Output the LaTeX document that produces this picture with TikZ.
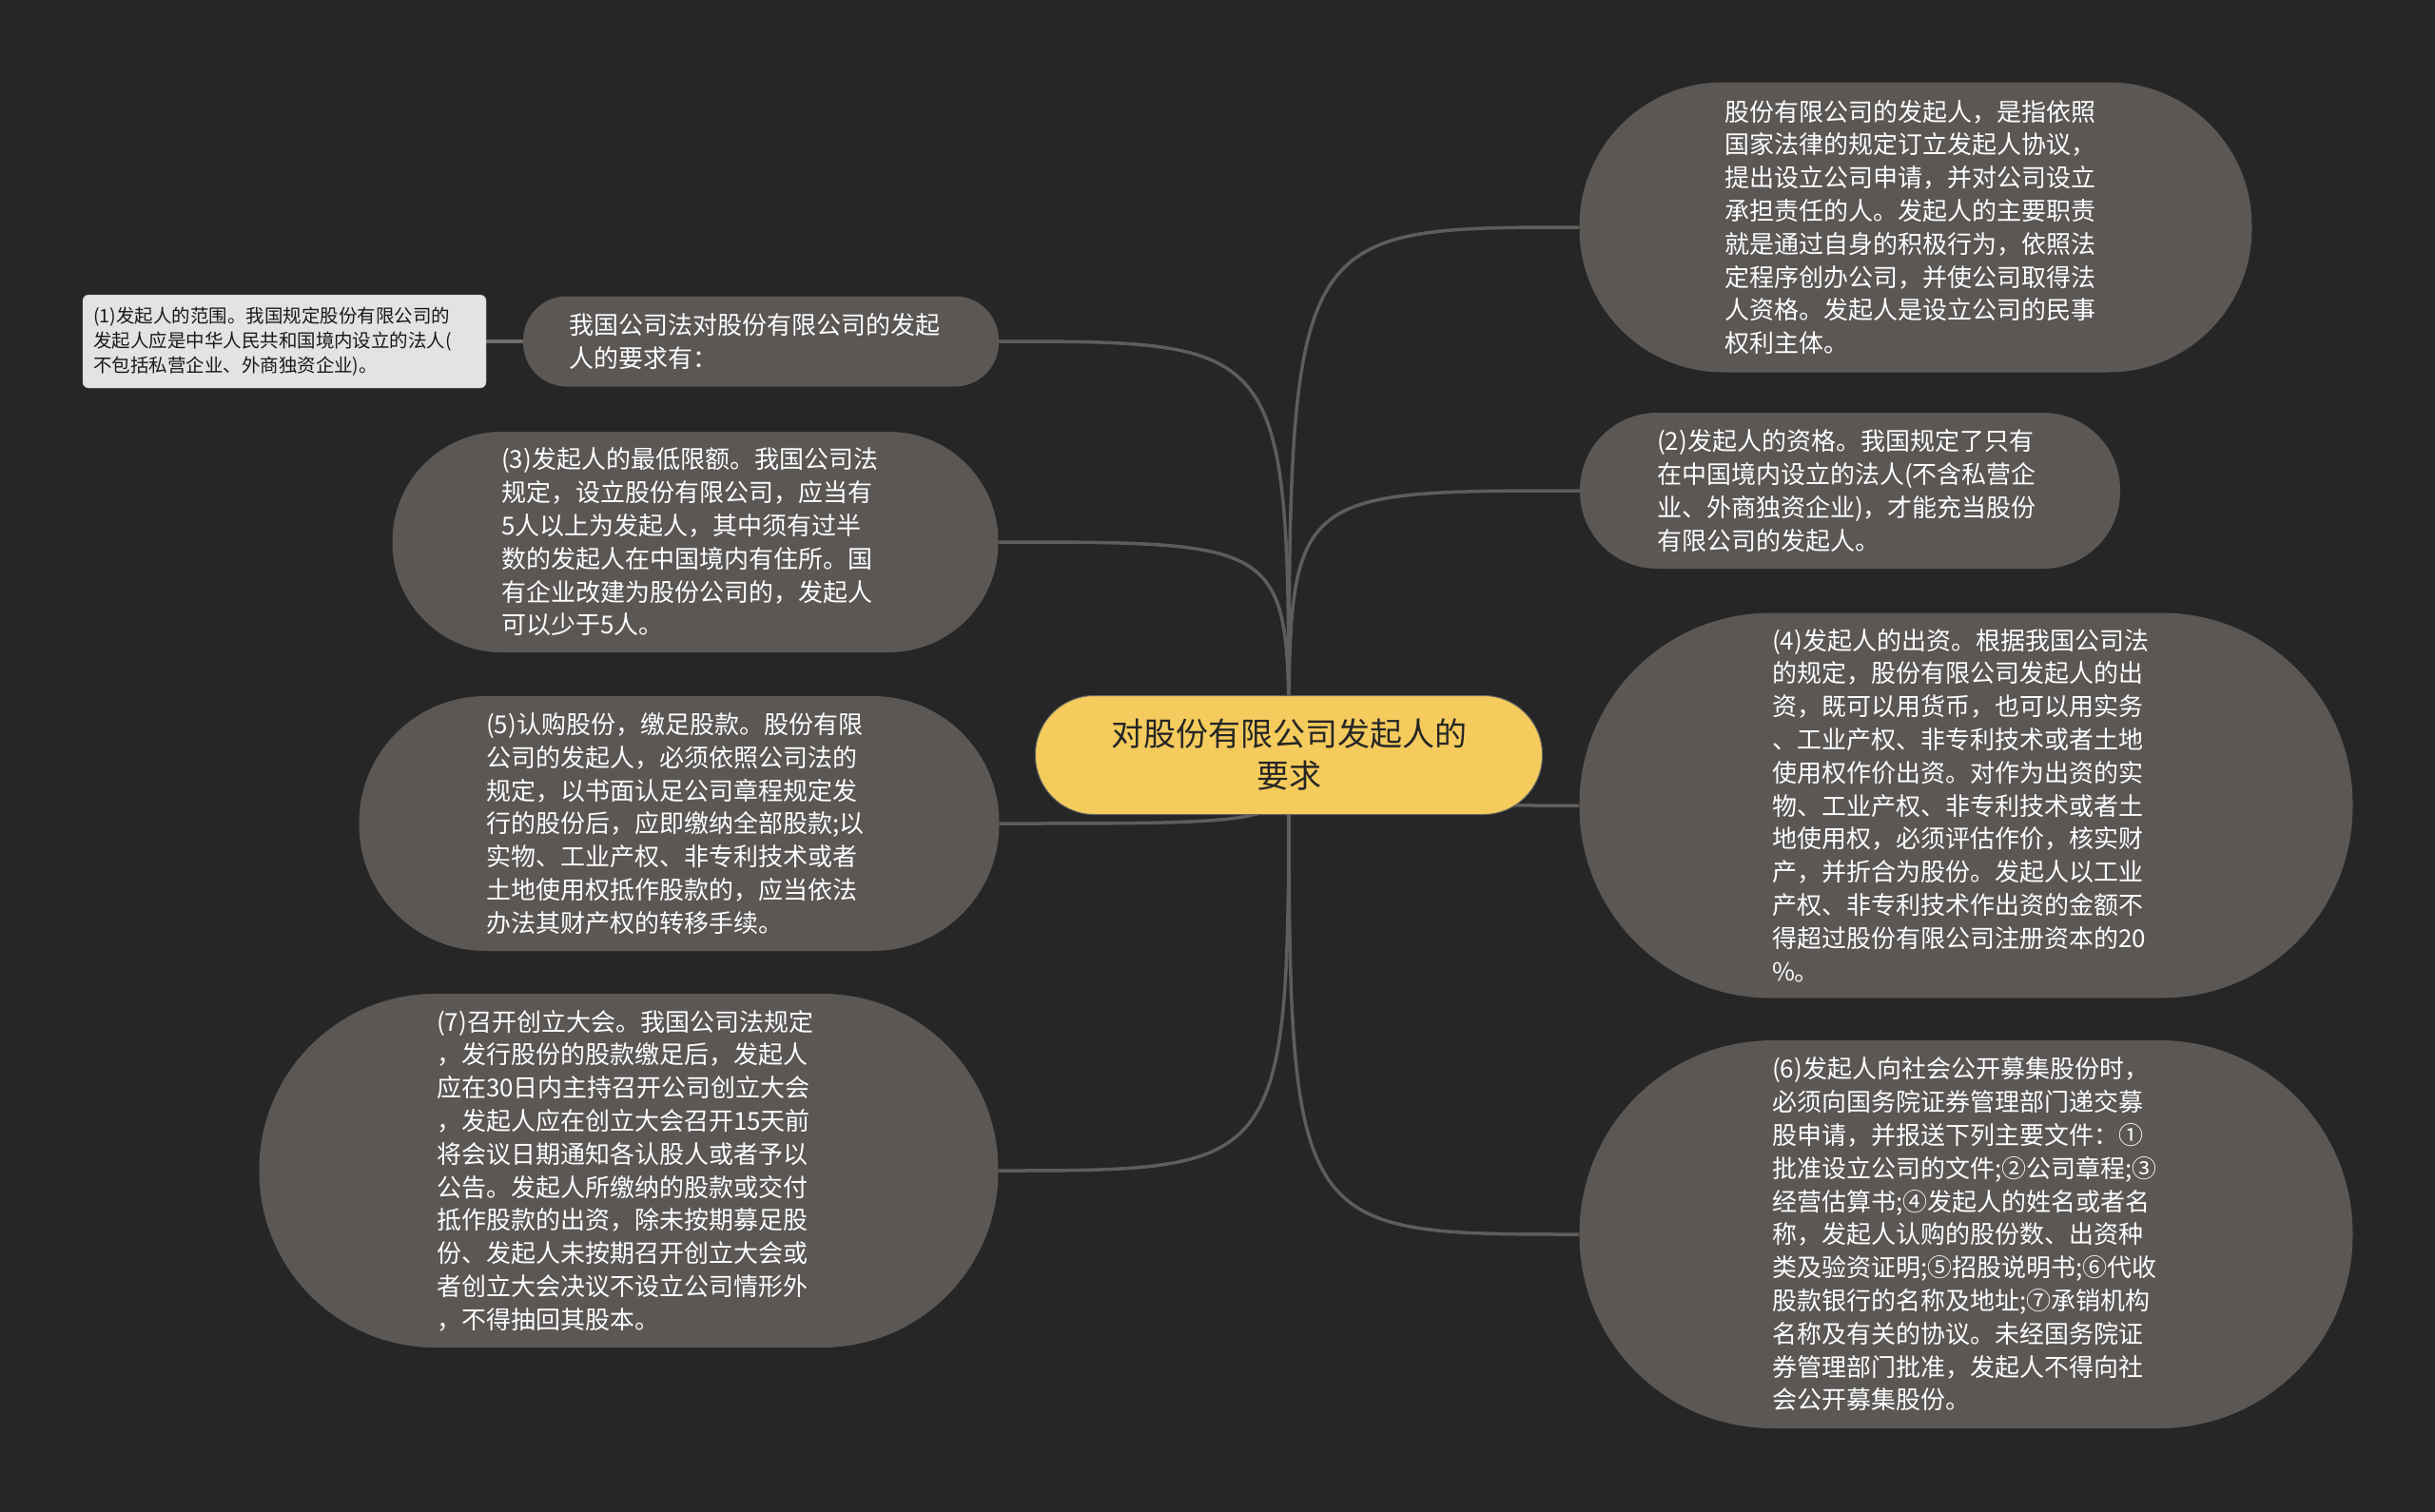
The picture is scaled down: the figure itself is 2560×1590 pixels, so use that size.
\documentclass[tikz,border=0pt]{standalone}
\usepackage{fontspec}
\newfontfamily\cjk{Noto Sans CJK SC}
\usepackage{tikz}
\usetikzlibrary{backgrounds}
\definecolor{bggray}{HTML}{262626}
\definecolor{bubblegray}{HTML}{5A5755}
\definecolor{rootyellow}{HTML}{F4CB5C}
\definecolor{notegray}{HTML}{E3E3E3}
\definecolor{linkgray}{HTML}{5F5D5B}
\newcommand{\linkcolor}{linkgray}
\newcommand{\linkwidth}{3.5pt}
\tikzset{
  bubble/.style={rectangle, fill=bubblegray, text=white, rounded corners=#1,
    inner sep=0pt, align=left, font=\cjk\fontsize{26}{34.8}\selectfont},
  rootbox/.style={rectangle, fill=rootyellow, draw=black!60, line width=1pt,
    text=black!85, rounded corners=62pt, inner sep=0pt, align=center,
    font=\cjk\fontsize{34}{44}\selectfont},
  notebox/.style={rectangle, fill=notegray, draw=white!70!black, text=black!90,
    rounded corners=6pt, inner sep=0pt, align=left,
    font=\cjk\fontsize{19.5}{26}\selectfont}
}

\begin{document}
\begin{tikzpicture}[x=1pt, y=-1pt]
\useasboundingbox (0, 0) rectangle (2560, 1590);
\node[rootbox, minimum width=533pt, minimum height=125pt] (root) at (1355, 794) {对股份有限公司发起人的\\要求};
%right
\node[bubble=151pt, minimum width=707pt, minimum height=305pt, text width=402pt] (def) at (2014, 239) {股份有限公司的发起人，是指依照\\国家法律的规定订立发起人协议，\\提出设立公司申请，并对公司设立\\承担责任的人。发起人的主要职责\\就是通过自身的积极行为，依照法\\定程序创办公司，并使公司取得法\\人资格。发起人是设立公司的民事\\权利主体。};
\node[bubble=81pt, minimum width=568pt, minimum height=164pt, text width=406pt] (2) at (1945, 516) {(2)发起人的资格。我国规定了只有\\在中国境内设立的法人(不含私营企\\业、外商独资企业)，才能充当股份\\有限公司的发起人。};
\node[bubble=201pt, minimum width=813pt, minimum height=405pt, text width=408pt] (4) at (2067, 847) {(4)发起人的出资。根据我国公司法\\的规定，股份有限公司发起人的出\\资，既可以用货币，也可以用实务\\、工业产权、非专利技术或者土地\\使用权作价出资。对作为出资的实\\物、工业产权、非专利技术或者土\\地使用权，必须评估作价，核实财\\产，并折合为股份。发起人以工业\\产权、非专利技术作出资的金额不\\得超过股份有限公司注册资本的20\\\%。};
\node[bubble=203pt, minimum width=813pt, minimum height=408pt, text width=408pt] (6) at (2067, 1298) {(6)发起人向社会公开募集股份时，\\必须向国务院证券管理部门递交募\\股申请，并报送下列主要文件：①\\批准设立公司的文件;②公司章程;③\\经营估算书;④发起人的姓名或者名\\称，发起人认购的股份数、出资种\\类及验资证明;⑤招股说明书;⑥代收\\股款银行的名称及地址;⑦承销机构\\名称及有关的协议。未经国务院证\\券管理部门批准，发起人不得向社\\会公开募集股份。};
%left
\node[bubble=46pt, minimum width=500pt, minimum height=95pt, text width=404pt] (intro) at (800, 359) {我国公司法对股份有限公司的发起\\人的要求有：};
\node[notebox, minimum width=424pt, minimum height=98pt, text width=402pt] (1) at (299, 359) {(1)发起人的范围。我国规定股份有限公司的\\发起人应是中华人民共和国境内设立的法人(\\不包括私营企业、外商独资企业)。};
\node[bubble=115pt, minimum width=637pt, minimum height=232pt, text width=408pt] (3) at (731, 570) {(3)发起人的最低限额。我国公司法\\规定，设立股份有限公司，应当有\\5人以上为发起人，其中须有过半\\数的发起人在中国境内有住所。国\\有企业改建为股份公司的，发起人\\可以少于5人。};
\node[bubble=133pt, minimum width=673pt, minimum height=268pt, text width=406pt] (5) at (714, 866) {(5)认购股份，缴足股款。股份有限\\公司的发起人，必须依照公司法的\\规定，以书面认足公司章程规定发\\行的股份后，应即缴纳全部股款;以\\实物、工业产权、非专利技术或者\\土地使用权抵作股款的，应当依法\\办法其财产权的转移手续。};
\node[bubble=185pt, minimum width=777pt, minimum height=372pt, text width=404pt] (7) at (661, 1231) {(7)召开创立大会。我国公司法规定\\，发行股份的股款缴足后，发起人\\应在30日内主持召开公司创立大会\\，发起人应在创立大会召开15天前\\将会议日期通知各认股人或者予以\\公告。发起人所缴纳的股款或交付\\抵作股款的出资，除未按期募足股\\份、发起人未按期召开创立大会或\\者创立大会决议不设立公司情形外\\，不得抽回其股本。};
%links
\begin{scope}[on background layer]
\fill[bggray] (0, 0) rectangle (2560, 1590);
\draw[\linkcolor] [line width = \linkwidth] (root.center) .. controls (root.center |- def.west) .. (def.west);
\draw[\linkcolor] [line width = \linkwidth] (root.center) .. controls (root.center |- 2.west) .. (2.west);
\draw[\linkcolor] [line width = \linkwidth] (root.center) .. controls (root.center |- 4.west) .. (4.west);
\draw[\linkcolor] [line width = \linkwidth] (root.center) .. controls (root.center |- 6.west) .. (6.west);
\draw[\linkcolor] [line width = \linkwidth] (root.center) .. controls (root.center |- intro.east) .. (intro.east);
\draw[\linkcolor] [line width = \linkwidth] (root.center) .. controls (root.center |- 3.east) .. (3.east);
\draw[\linkcolor] [line width = \linkwidth] (root.center) .. controls (root.center |- 5.east) .. (5.east);
\draw[\linkcolor] [line width = \linkwidth] (root.center) .. controls (root.center |- 7.east) .. (7.east);
\draw[\linkcolor!90!white] [line width = \linkwidth] (intro.west) -- (1.east);
\end{scope}
\end{tikzpicture}
\end{document}
